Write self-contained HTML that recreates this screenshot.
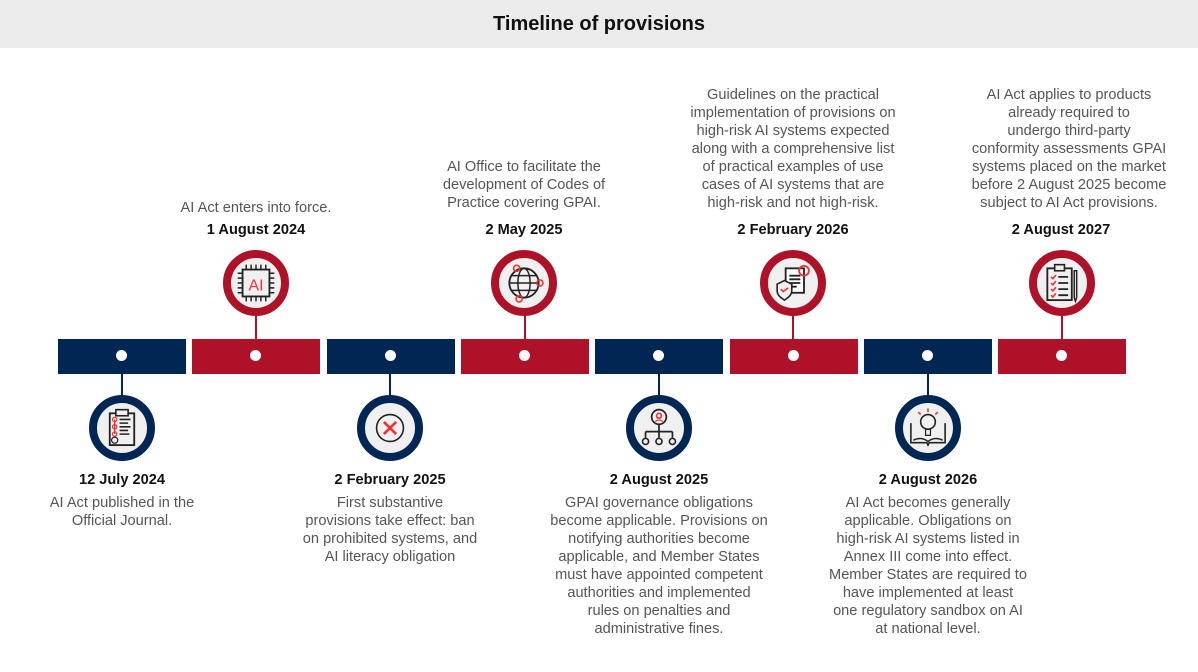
<!DOCTYPE html>
<html><head><meta charset="utf-8"><style>
body{margin:0;width:1198px;height:672px;background:#fff;font-family:"Liberation Sans",Arial,sans-serif;position:relative;overflow:hidden}
.hdr{position:absolute;left:0;top:0;width:1198px;height:48px;background:#ebebeb;text-align:center;line-height:49px;font-weight:bold;font-size:20px;color:#111}
.bar{position:absolute;top:339px;height:35px;width:128px}
.n{background:#002654}.r{background:#ad1228}
.dot{position:absolute;width:11px;height:11px;border-radius:50%;background:#fff;top:350px}
.ln{position:absolute;width:2px}
.c{position:absolute;width:50px;height:50px;border-radius:50%;background:#f0f0f0;border:8px solid}
.c svg{position:absolute;left:3px;top:3px;width:44px;height:44px}
.d{position:absolute;width:260px;text-align:center;font-weight:bold;font-size:14.6px;color:#111;line-height:18px}
.t{position:absolute;width:260px;text-align:center;font-size:14.6px;color:#555;line-height:18px}
</style></head><body>
<div class="hdr">Timeline of provisions</div>

<div class="bar n" style="left:58px"></div>
<div class="bar r" style="left:192px"></div>
<div class="bar n" style="left:327px"></div>
<div class="bar r" style="left:461px"></div>
<div class="bar n" style="left:595px"></div>
<div class="bar r" style="left:730px"></div>
<div class="bar n" style="left:864px"></div>
<div class="bar r" style="left:998px"></div>

<div class="dot" style="left:116px"></div><div class="dot" style="left:250px"></div>
<div class="dot" style="left:385px"></div><div class="dot" style="left:519px"></div>
<div class="dot" style="left:653px"></div><div class="dot" style="left:788px"></div>
<div class="dot" style="left:922px"></div><div class="dot" style="left:1056px"></div>

<div class="ln" style="left:121px;top:374px;height:22px;background:#002654"></div>
<div class="ln" style="left:389px;top:374px;height:22px;background:#002654"></div>
<div class="ln" style="left:658px;top:374px;height:22px;background:#002654"></div>
<div class="ln" style="left:927px;top:374px;height:22px;background:#002654"></div>
<div class="ln" style="left:255px;top:315px;height:24px;background:#ad1228"></div>
<div class="ln" style="left:524px;top:315px;height:24px;background:#ad1228"></div>
<div class="ln" style="left:792px;top:315px;height:24px;background:#ad1228"></div>
<div class="ln" style="left:1061px;top:315px;height:24px;background:#ad1228"></div>

<div class="c" style="left:223px;top:250px;border-color:#ad1228"><svg viewBox="0 0 36 36"><rect x="7" y="7" width="22" height="22" fill="none" stroke="#222" stroke-width="1.5"/><text x="18" y="24" font-size="13" text-anchor="middle" fill="#e33" font-family="Liberation Sans">AI</text><path d="M10 3v4M14 3v4M18 3v4M22 3v4M26 3v4M10 29v4M14 29v4M18 29v4M22 29v4M26 29v4M3 10h4M3 14h4M3 18h4M3 22h4M3 26h4M29 10h4M29 14h4M29 18h4M29 22h4M29 26h4" stroke="#222" stroke-width="1.2"/></svg></div>
<div class="c" style="left:491px;top:250px;border-color:#ad1228"><svg viewBox="0 0 36 36"><circle cx="18" cy="18" r="12" fill="none" stroke="#222" stroke-width="1.5"/><ellipse cx="18" cy="18" rx="5" ry="12" fill="none" stroke="#222" stroke-width="1.2"/><path d="M6 18h24M8 12h20M8 24h20" stroke="#222" stroke-width="1.2"/><circle cx="31" cy="18" r="2.5" fill="none" stroke="#e33" stroke-width="1.3"/><circle cx="12" cy="6" r="2.5" fill="none" stroke="#e33" stroke-width="1.3"/><circle cx="14" cy="31" r="2.5" fill="none" stroke="#e33" stroke-width="1.3"/></svg></div>
<div class="c" style="left:760px;top:250px;border-color:#ad1228"><svg viewBox="0 0 36 36"><rect x="12" y="6" width="15" height="20" fill="#fff" stroke="#222" stroke-width="1.5"/><path d="M15 12h9M15 15h9M15 18h9M15 21h6" stroke="#222" stroke-width="1.5"/><circle cx="27" cy="8" r="4" fill="none" stroke="#e33" stroke-width="1.5"/><path d="M5 19l6-3 6 3v5c0 4-3 6-6 8-3-2-6-4-6-8z" fill="#f0f0f0" stroke="#222" stroke-width="1.3"/><path d="M8 23l2 2 4-3" stroke="#e33" stroke-width="1.3" fill="none"/></svg></div>
<div class="c" style="left:1029px;top:250px;border-color:#ad1228"><svg viewBox="0 0 36 36"><rect x="6" y="6" width="20" height="26" fill="none" stroke="#222" stroke-width="1.5"/><rect x="12" y="3" width="8" height="5" fill="#f0f0f0" stroke="#222" stroke-width="1.3"/><path d="M9 13l1.5 1.5 2.5-3M9 18l1.5 1.5 2.5-3M9 23l1.5 1.5 2.5-3M9 28l1.5 1.5 2.5-3" stroke="#e33" stroke-width="1.3" fill="none"/><path d="M15 13h8M15 18h8M15 23h8M15 28h8" stroke="#222" stroke-width="1.5"/><path d="M30 8v22l-1 3-1-3V8z" fill="none" stroke="#222" stroke-width="1.2"/></svg></div>

<div class="c" style="left:89px;top:395px;border-color:#002654"><svg viewBox="0 0 36 36"><rect x="8" y="6" width="20" height="26" fill="none" stroke="#222" stroke-width="1.5"/><rect x="13" y="3" width="10" height="5" fill="#f0f0f0" stroke="#222" stroke-width="1.3"/><path d="M12 11v12" stroke="#e33" stroke-width="1.2"/><circle cx="12" cy="11" r="1.8" fill="none" stroke="#e33"/><circle cx="12" cy="17" r="1.8" fill="none" stroke="#e33"/><circle cx="12" cy="23" r="1.8" fill="none" stroke="#e33"/><path d="M16 11h9M16 14h7M16 17h9M16 20h7M16 23h8" stroke="#222" stroke-width="1.3"/><circle cx="12" cy="28" r="2.5" fill="none" stroke="#222"/></svg></div>
<div class="c" style="left:357px;top:395px;border-color:#002654"><svg viewBox="0 0 36 36"><circle cx="18" cy="18" r="11" fill="none" stroke="#222" stroke-width="1.3"/><path d="M13 13l10 10M23 13L13 23" stroke="#e33" stroke-width="2.2"/></svg></div>
<div class="c" style="left:626px;top:395px;border-color:#002654"><svg viewBox="0 0 36 36"><circle cx="18" cy="9" r="6" fill="none" stroke="#222" stroke-width="1.4"/><circle cx="18" cy="8" r="2" fill="none" stroke="#e33" stroke-width="1.3"/><path d="M15 13c1-2 5-2 6 0" stroke="#e33" fill="none"/><path d="M18 15v6M7 21h22M7 21v5M18 21v5M29 21v5" stroke="#222" stroke-width="1.4"/><circle cx="7" cy="29" r="2.5" fill="none" stroke="#222" stroke-width="1.3"/><circle cx="18" cy="29" r="2.5" fill="none" stroke="#222" stroke-width="1.3"/><circle cx="29" cy="29" r="2.5" fill="none" stroke="#222" stroke-width="1.3"/></svg></div>
<div class="c" style="left:895px;top:395px;border-color:#002654"><svg viewBox="0 0 36 36"><path d="M4 14v16h13l1 2 1-2h13V14" fill="none" stroke="#222" stroke-width="1.3"/><path d="M6 28c4-2 8-2 12 1 4-3 8-3 12-1" fill="none" stroke="#222" stroke-width="1.2"/><circle cx="18" cy="13" r="6" fill="none" stroke="#222" stroke-width="1.3"/><path d="M16 19h4v5h-4z" fill="none" stroke="#222"/><path d="M18 2v3M10 5l2 2M26 5l-2 2" stroke="#e33" stroke-width="1.3"/></svg></div>

<div class="t" style="left:126px;top:199px">AI Act enters into force.</div>
<div class="d" style="left:126px;top:221px">1 August 2024</div>
<div class="t" style="left:394px;top:158px">AI Office to facilitate the<br>development of Codes of<br>Practice covering GPAI.</div>
<div class="d" style="left:394px;top:221px">2 May 2025</div>
<div class="t" style="left:663px;top:86px">Guidelines on the practical<br>implementation of provisions on<br>high-risk AI systems expected<br>along with a comprehensive list<br>of practical examples of use<br>cases of AI systems that are<br>high-risk and not high-risk.</div>
<div class="d" style="left:663px;top:221px">2 February 2026</div>
<div class="t" style="left:939px;top:86px">AI Act applies to products<br>already required to<br>undergo third-party<br>conformity assessments GPAI<br>systems placed on the market<br>before 2 August 2025 become<br>subject to AI Act provisions.</div>
<div class="d" style="left:931px;top:221px">2 August 2027</div>

<div class="d" style="left:-8px;top:471px">12 July 2024</div>
<div class="t" style="left:-8px;top:494px">AI Act published in the<br>Official Journal.</div>
<div class="d" style="left:260px;top:471px">2 February 2025</div>
<div class="t" style="left:260px;top:494px">First substantive<br>provisions take effect: ban<br>on prohibited systems, and<br>AI literacy obligation</div>
<div class="d" style="left:529px;top:471px">2 August 2025</div>
<div class="t" style="left:529px;top:494px">GPAI governance obligations<br>become applicable. Provisions on<br>notifying authorities become<br>applicable, and Member States<br>must have appointed competent<br>authorities and implemented<br>rules on penalties and<br>administrative fines.</div>
<div class="d" style="left:798px;top:471px">2 August 2026</div>
<div class="t" style="left:798px;top:494px">AI Act becomes generally<br>applicable. Obligations on<br>high-risk AI systems listed in<br>Annex III come into effect.<br>Member States are required to<br>have implemented at least<br>one regulatory sandbox on AI<br>at national level.</div>
</body></html>
